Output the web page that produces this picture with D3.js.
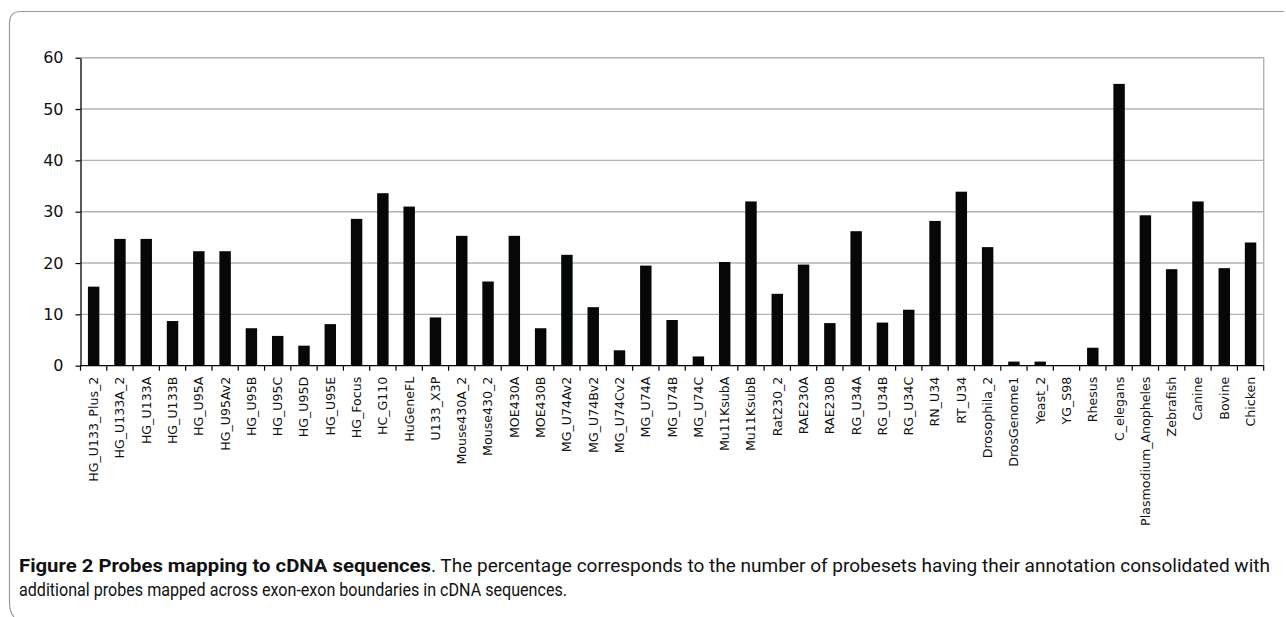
<!DOCTYPE html>
<html>
<head>
<meta charset="utf-8">
<script src="https://cdn.jsdelivr.net/npm/d3@7"></script>
<style>
  html, body { margin: 0; padding: 0; background: #fff; }
  svg { display: block; }
</style>
</head>
<body>
<svg id="chart" width="1286" height="617"></svg>
<script>
const categories = ["HG_U133_Plus_2","HG_U133A_2","HG_U133A","HG_U133B","HG_U95A","HG_U95Av2","HG_U95B","HG_U95C","HG_U95D","HG_U95E","HG_Focus","HC_G110","HuGeneFL","U133_X3P","Mouse430A_2","Mouse430_2","MOE430A","MOE430B","MG_U74Av2","MG_U74Bv2","MG_U74Cv2","MG_U74A","MG_U74B","MG_U74C","Mu11KsubA","Mu11KsubB","Rat230_2","RAE230A","RAE230B","RG_U34A","RG_U34B","RG_U34C","RN_U34","RT_U34","Drosophila_2","DrosGenome1","Yeast_2","YG_S98","Rhesus","C_elegans","Plasmodium_Anopheles","Zebrafish","Canine","Bovine","Chicken"];
const values = [15.4,24.7,24.7,8.7,22.3,22.3,7.3,5.8,3.9,8.1,28.6,33.6,31.0,9.4,25.3,16.4,25.3,7.3,21.6,11.4,3.0,19.5,8.9,1.8,20.2,32.0,14.0,19.7,8.3,26.2,8.4,10.9,28.2,33.9,23.1,0.8,0.8,0.1,3.5,54.9,29.3,18.8,32.0,19.0,24.0];
const yTicks = [0,10,20,30,40,50,60];
const captionBold = "Figure 2 Probes mapping to cDNA sequences";
const captionRest1 = ". The percentage corresponds to the number of probesets having their annotation consolidated with";
const captionLine2 = "additional probes mapped across exon-exon boundaries in cDNA sequences.";

const svg = d3.select("#chart");
const pLeft = 80.5, pRight = 1263.7, pTop = 57.7, pBottom = 365.7;

// Frame
svg.append("path")
  .attr("d", "M1284,11.5 H21 Q9.5,11.5 9.5,23 V602 Q9.5,612 14,617")
  .attr("fill", "none").attr("stroke", "#9a9a9a").attr("stroke-width", 1.2);

const x = d3.scaleBand().domain(categories).range([pLeft, pRight])
  .paddingInner(0.565).paddingOuter(0.2825);
const y = d3.scaleLinear().domain([0, 60]).range([pBottom, pTop]);

// Gridlines
svg.append("g").selectAll("line").data(yTicks.filter(d => d > 0)).join("line")
  .attr("x1", pLeft).attr("x2", pRight)
  .attr("y1", d => y(d)).attr("y2", d => y(d))
  .attr("stroke", "#b3b3b3").attr("stroke-width", 1.4);
// right border of plot
svg.append("line").attr("x1", pRight).attr("x2", pRight).attr("y1", pTop).attr("y2", pBottom)
  .attr("stroke", "#b3b3b3").attr("stroke-width", 1.4);

// Bars
svg.append("g").selectAll("rect").data(categories).join("rect")
  .attr("x", d => x(d)).attr("width", x.bandwidth())
  .attr("y", (d, i) => y(values[i])).attr("height", (d, i) => y(0) - y(values[i]))
  .attr("fill", "#060708");

// Y axis
const yAxis = svg.append("g").attr("transform", `translate(${pLeft},0)`)
  .call(d3.axisLeft(y).tickValues(yTicks).tickSize(5).tickPadding(12).tickSizeOuter(0));
yAxis.select(".domain").attr("stroke", "#000").attr("stroke-width", 1.3);
yAxis.selectAll(".tick line").attr("stroke", "#000").attr("stroke-width", 1.2);
yAxis.selectAll(".tick text").attr("font-family", "DejaVu Sans, Verdana, sans-serif")
  .attr("font-size", 16).attr("fill", "#111");

// X axis
const step = x.step();
const boundaries = d3.range(categories.length + 1).map(i => x.range()[0] + i * step);
const xg = svg.append("g");
xg.append("line").attr("x1", pLeft).attr("x2", pRight).attr("y1", pBottom).attr("y2", pBottom)
  .attr("stroke", "#000").attr("stroke-width", 1.3);
xg.selectAll("line.tk").data(boundaries).join("line").attr("class", "tk")
  .attr("x1", d => d).attr("x2", d => d).attr("y1", pBottom).attr("y2", pBottom + 5)
  .attr("stroke", "#000").attr("stroke-width", 1.2);
xg.selectAll("text").data(categories).join("text")
  .attr("transform", d => `translate(${x(d) + x.bandwidth() / 2},${pBottom + 11}) rotate(-90)`)
  .attr("text-anchor", "end").attr("dy", "0.35em")
  .attr("font-family", "DejaVu Sans, Verdana, sans-serif").attr("font-size", 12.6)
  .attr("fill", "#111")
  .text(d => d);

// Caption
const capFont = "'Liberation Sans Narrow', 'Roboto', 'Noto Sans', sans-serif";
const t1 = svg.append("text").attr("x", 19).attr("y", 572)
  .attr("font-family", capFont).attr("font-size", 17.5).attr("fill", "#111");
t1.append("tspan").attr("font-weight", "bold").attr("textLength", 412)
  .attr("lengthAdjust", "spacingAndGlyphs").text(captionBold);
t1.append("tspan").attr("textLength", 839)
  .attr("lengthAdjust", "spacingAndGlyphs").text(captionRest1);
svg.append("text").attr("x", 19).attr("y", 596)
  .attr("font-family", capFont).attr("font-size", 17.5).attr("fill", "#111")
  .attr("textLength", 548).attr("lengthAdjust", "spacingAndGlyphs")
  .text(captionLine2);
</script>
</body>
</html>
